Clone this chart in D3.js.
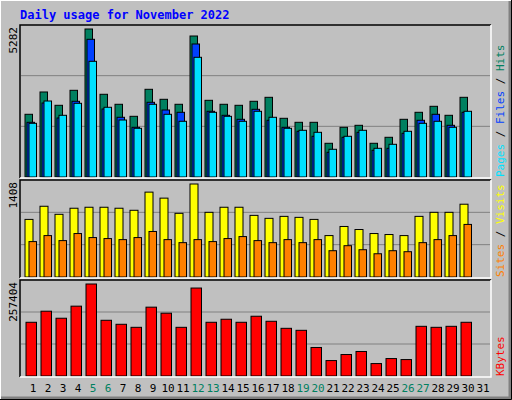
<!DOCTYPE html>
<meta charset="utf-8">
<style>
  body { margin: 0; background: #c0c0c0; }
  svg text { font-family: "DejaVu Sans Mono", monospace; }
</style>
<body>
<svg id="chart" width="512" height="400"></svg>
<script src="https://cdn.jsdelivr.net/npm/d3@7"></script>
<script>
var days = d3.range(1, 32);
var weekend = [5, 6, 12, 13, 19, 20, 26, 27];
var hits  = [2238,3034,2559,3094,5282,2952,2595,2166,3130,2773,2595,5032,2737,2595,2559,2702,2844,2095,1952,1952,1203,1774,1845,1203,1417,2059,2309,2523,2202,2844];
var files = [1952,2641,2106,2702,4914,2427,2131,1774,2666,2391,2309,4747,2345,2202,2059,2416,2024,1774,1631,1453,882,1417,1595,953,1024,1560,2024,2238,1845,2309];
var pages = [1916,2712,2202,2630,4129,2488,2034,1738,2595,2238,1988,4272,2309,2166,1988,2345,2131,1738,1667,1595,989,1453,1667,1024,1167,1631,1916,1988,1774,2345];
var visits = [872,1071,949,1041,1056,1056,1041,1010,1285,1194,964,1408,979,1056,1056,933,888,918,903,872,627,765,719,658,643,627,918,979,979,1102];
var sites  = [536,627,551,658,597,582,566,597,689,566,520,566,536,582,612,551,520,566,520,566,398,474,413,352,398,383,520,566,627,796];
var kbytes = [150300,181300,161600,195400,257404,155900,144700,136200,192600,175700,136200,246100,150300,158800,150300,167200,153100,133400,127800,79800,43200,60100,68600,34800,48800,46000,139000,136200,139000,150300];

var svg = d3.select("#chart");

// outer 3D frame
svg.append("rect").attr("x", 0).attr("y", 0).attr("width", 512).attr("height", 400).attr("fill", "#c0c0c0");
svg.append("path").attr("d", "M0,399V0H511").attr("stroke", "#fff").attr("stroke-width", 2).attr("fill", "none");
svg.append("path").attr("d", "M1,398H510V1").attr("stroke", "#808080").attr("stroke-width", 3).attr("fill", "none");
svg.append("path").attr("d", "M0,399.5H511.5V0").attr("stroke", "#000").attr("stroke-width", 1).attr("fill", "none");

svg.append("text").attr("x", 20).attr("y", 19).attr("fill", "#0000ff")
  .style("font-weight", "bold").style("font-size", "12px")
  .text("Daily usage for November 2022");

var x = d3.scaleLinear().domain([1, 31]).range([25, 475]);

function panel(top, bottom, maxVal, series, offsets, widths, label, legend) {
  var y = d3.scaleLinear().domain([0, maxVal]).range([bottom, top + 4]);
  var g = svg.append("g");
  var h = bottom - top;
  [1, 2].forEach(function (k) {
    g.append("line").attr("x1", 21).attr("x2", 490)
      .attr("y1", bottom - h * k / 3).attr("y2", bottom - h * k / 3)
      .attr("stroke", "#808080");
  });
  series.forEach(function (s, i) {
    g.selectAll(null).data(s.values).enter().append("rect")
      .attr("x", function (d, j) { return x(j + 1) + offsets[i]; })
      .attr("width", widths[i])
      .attr("y", function (d) { return y(d); })
      .attr("height", function (d) { return bottom - y(d); })
      .attr("fill", s.color).attr("stroke", "#000").attr("stroke-width", 1);
  });
  g.append("path").attr("d", "M20," + (bottom + 1) + "V" + top + "H491")
    .attr("stroke", "#000").attr("stroke-width", 1.5).attr("fill", "none");
  g.append("path").attr("d", "M20," + (bottom + 1) + "H491V" + top)
    .attr("stroke", "#fff").attr("stroke-width", 1.5).attr("fill", "none");
  g.append("text").attr("transform", "translate(17," + (top + 2) + ") rotate(-90)")
    .attr("text-anchor", "end").style("font-size", "11px").attr("fill", "#000")
    .text(label);
  var t = g.append("text").attr("transform", "translate(504," + (bottom) + ") rotate(-90)")
    .style("font-size", "11px");
  legend.forEach(function (p, i) {
    t.append("tspan").attr("fill", p[1]).text(p[0]);
    if (i < legend.length - 1) t.append("tspan").attr("fill", "#000").text(" / ");
  });
}

panel(25, 177, 5282,
  [{values: hits, color: "#008060"}, {values: files, color: "#0040ff"}, {values: pages, color: "#00e0ff"}],
  [0, 2, 4], [7.5, 7.5, 7.5], "5282",
  [["Pages", "#00e0ff"], ["Files", "#0040ff"], ["Hits", "#008060"]]);

panel(180, 277, 1408,
  [{values: visits, color: "#ffff00"}, {values: sites, color: "#ff8000"}],
  [0, 4], [8, 7.5], "1408",
  [["Sites", "#ff8000"], ["Visits", "#ffff00"]]);

panel(280, 376, 257404,
  [{values: kbytes, color: "#ff0000"}],
  [1], [10.5], "257404",
  [["KBytes", "#ff0000"]]);

svg.append("g").selectAll("text").data(days).enter().append("text")
  .attr("x", function (d) { return x(d) + 8; })
  .attr("y", 392).attr("text-anchor", "middle").style("font-size", "11px")
  .attr("fill", function (d) { return weekend.indexOf(d) >= 0 ? "#008060" : "#000"; })
  .text(function (d) { return d; });
</script>
</body>
